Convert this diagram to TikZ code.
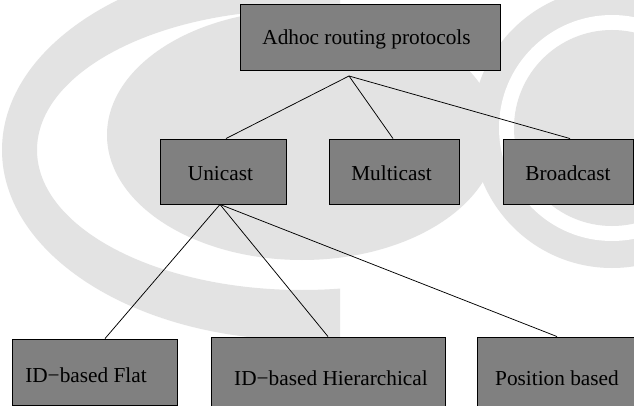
\documentclass[tikz,border=0pt]{standalone}
\usepackage{fontspec}
\setmainfont{Liberation Serif}
\definecolor{boxgray}{HTML}{808080}
\definecolor{wmgray}{HTML}{E3E3E3}
\begin{document}
\begin{tikzpicture}[x=1pt,y=-1pt,
  box/.style={draw=black, line width=0.9pt, fill=boxgray, rectangle, inner sep=0pt},
  lbl/.style={anchor=base, inner sep=0pt, text=black, font=\fontsize{21.3}{25}\selectfont},
  link/.style={draw=black, line width=0.75pt},
  wm/.style={fill=wmgray, draw=none}]
\useasboundingbox (0,0) rectangle (634,406);
\clip (0,0) rectangle (634,406);
\fill[white] (0,0) rectangle (634,406);

% faint background emblem: outer arc band, right disk with halo, inner disk
\begin{scope}
  \clip (0,0) rectangle (340,406);
  \fill[wm, even odd rule] (302,150) ellipse[x radius=300pt, y radius=190pt]
                           (302,150) ellipse[x radius=265pt, y radius=140pt];
\end{scope}
\fill[wm] (612,128) circle[radius=140pt];
\fill[white] (612,128) circle[radius=113pt];
\fill[wm] (612,128) circle[radius=98pt];
\fill[wm] (302,135) ellipse[x radius=195pt, y radius=125pt];

% boxes
\node[box, minimum width=259.5pt, minimum height=66pt] (top) at (370.25,37) {};
\node[box, minimum width=126pt, minimum height=65pt] (uni) at (223,171.5) {};
\node[box, minimum width=130pt, minimum height=65pt] (multi) at (394,171.5) {};
\node[box, minimum width=130pt, minimum height=65pt] (broad) at (568,171.5) {};
\node[box, minimum width=165pt, minimum height=66pt] (flat) at (94.5,372) {};
\node[box, minimum width=234pt, minimum height=84pt] (hier) at (328,379) {};
\node[box, minimum width=166pt, minimum height=84pt] (pos) at (560,379) {};

% labels
\node[lbl] (ttop) at (366.5,45) {Adhoc routing protocols};
\node[lbl] (tuni) at (220.5,181) {Unicast};
\node[lbl] (tmulti) at (391.5,181) {Multicast};
\node[lbl] (tbroad) at (568,181) {Broadcast};
\node[lbl] (tflat) at (86,382) {ID−based Flat};
\node[lbl] (thier) at (331,385) {ID−based Hierarchical};
\node[lbl] (tpos) at (557,385) {Position based};

% connectors
\coordinate (forkA) at (349,76);
\coordinate (forkB) at ([xshift=-3pt]uni.south);
\draw[link] (forkA) -- ([xshift=3pt]uni.north);
\draw[link] (forkA) -- ([xshift=-1pt]multi.north);
\draw[link] (forkA) -- ([xshift=2pt]broad.north);
\draw[link] (forkB) -- ([xshift=10.5pt]flat.north);
\draw[link] (forkB) -- (hier.north);
\draw[link] (forkB) -- ([xshift=-3pt]pos.north);
\end{tikzpicture}
\end{document}
